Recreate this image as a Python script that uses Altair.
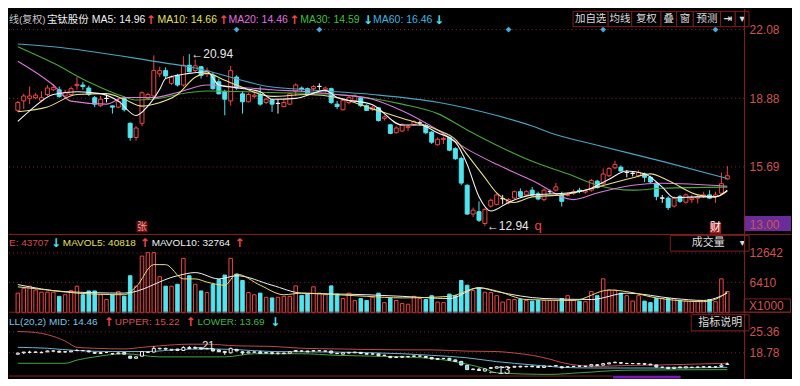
import altair as alt
import pandas as pd

# ---------------- data ----------------
opens = [18.32, 18.76, 18.88, 18.91, 18.79, 19.06, 19.28, 19.28, 18.99, 19.06,
         19.47, 19.50, 19.36, 18.91, 18.54, 18.87, 18.53, 18.47, 18.88, 17.72,
         17.06, 17.72, 18.88, 18.99, 20.02, 20.17, 19.58, 19.95, 19.50, 20.42,
         20.17, 20.35, 20.02, 19.95, 19.65, 19.21, 18.76, 19.87, 19.09, 18.72,
         18.97, 19.06, 18.69, 18.81, 18.64, 18.50, 18.61, 19.21, 19.36, 19.33,
         19.33, 19.43, 19.28, 19.33, 18.61, 18.35, 18.69, 18.76, 18.91, 18.54,
         18.35, 18.44, 17.95, 17.65, 17.28, 17.36, 17.52, 17.65, 17.73, 17.61,
         17.31, 16.72, 16.97, 17.06, 16.54, 16.09, 14.84, 13.50, 13.61, 13.06,
         13.87, 13.95, 14.21, 14.02, 14.24, 14.54, 14.39, 14.61, 14.44, 14.17,
         14.54, 14.61, 14.39, 14.37, 14.47, 14.61, 14.52, 14.61, 15.03, 14.91,
         15.28, 15.65, 15.68, 15.43, 15.39, 15.28, 15.36, 15.21, 14.94, 14.24,
         14.24, 13.87, 14.32, 14.05, 14.17, 14.24, 14.32, 14.39, 14.32, 14.47,
         15.13]
closes = [18.69, 18.99, 18.99, 19.03, 18.91, 19.36, 19.38, 18.96, 19.14, 19.33,
          19.53, 19.43, 19.06, 18.61, 18.84, 18.88, 18.47, 18.73, 18.35, 17.06,
          17.50, 19.14, 19.06, 20.17, 20.17, 19.92, 19.87, 19.50, 20.42, 20.12,
          20.39, 19.95, 20.17, 19.33, 19.09, 18.84, 20.17, 19.36, 18.72, 19.06,
          19.03, 18.61, 18.84, 18.61, 18.65, 18.69, 19.09, 19.50, 19.30, 19.06,
          19.43, 19.44, 19.36, 18.69, 18.50, 18.79, 18.91, 18.99, 18.54, 18.32,
          18.47, 17.85, 18.02, 17.25, 17.50, 17.65, 17.58, 17.80, 17.74, 17.28,
          16.84, 16.98, 17.02, 16.47, 16.07, 14.94, 13.50, 13.68, 13.21, 13.72,
          14.14, 14.39, 14.22, 14.17, 14.54, 14.32, 14.54, 14.39, 14.20, 14.61,
          14.55, 14.76, 14.09, 14.40, 14.54, 14.56, 14.58, 15.06, 14.73, 15.36,
          15.62, 15.80, 15.50, 15.44, 15.40, 15.43, 15.21, 14.99, 14.32, 14.25,
          13.80, 14.24, 14.09, 14.39, 14.24, 14.32, 14.39, 14.24, 14.39, 14.91,
          15.28]
highs = [18.76, 19.09, 19.43, 19.14, 19.21, 19.50, 19.53, 19.43, 19.28, 19.43,
         19.87, 19.65, 19.47, 18.99, 18.99, 19.06, 18.55, 18.91, 18.94, 17.76,
         17.58, 19.21, 19.14, 20.88, 20.35, 20.32, 19.95, 20.02, 20.84, 20.94,
         20.69, 20.39, 20.32, 20.09, 19.80, 19.28, 20.39, 19.95, 19.21, 19.14,
         19.18, 19.43, 18.91, 18.84, 18.84, 18.84, 19.14, 19.58, 19.43, 19.38,
         19.50, 19.58, 19.43, 19.38, 18.76, 18.84, 18.99, 19.06, 18.99, 18.61,
         18.54, 18.47, 18.09, 17.69, 17.58, 17.72, 17.65, 17.87, 17.85, 17.69,
         17.36, 17.06, 17.10, 17.10, 16.61, 16.17, 14.88, 13.80, 14.09, 13.76,
         14.22, 14.46, 14.39, 14.24, 14.59, 14.69, 14.61, 14.76, 14.54, 14.69,
         14.64, 14.94, 14.54, 14.49, 14.64, 14.72, 14.64, 15.13, 15.09, 15.62,
         15.68, 15.98, 15.76, 15.54, 15.50, 15.54, 15.43, 15.28, 14.99, 14.39,
         14.32, 14.32, 14.39, 14.46, 14.39, 14.41, 14.54, 14.61, 14.54, 15.43,
         15.73]
lows = [18.25, 18.39, 18.61, 18.84, 18.69, 18.99, 19.21, 18.91, 18.91, 18.99,
        19.28, 19.28, 18.99, 18.47, 18.47, 18.69, 18.17, 18.42, 18.27, 16.91,
        16.91, 17.58, 18.79, 18.91, 19.87, 19.80, 19.50, 19.43, 19.43, 20.09,
        20.09, 19.80, 19.87, 19.28, 19.06, 18.09, 18.54, 19.28, 18.17, 18.69,
        18.88, 18.54, 18.61, 18.25, 18.17, 18.47, 18.58, 18.99, 19.18, 19.03,
        19.21, 19.28, 19.14, 18.61, 18.39, 18.32, 18.61, 18.69, 18.47, 18.29,
        18.29, 17.80, 17.85, 17.21, 17.25, 17.32, 17.36, 17.61, 17.61, 17.21,
        16.76, 16.69, 16.76, 16.42, 16.02, 14.84, 13.46, 13.36, 13.13, 12.94,
        13.80, 13.91, 13.95, 13.95, 14.19, 14.24, 14.32, 14.32, 14.14, 14.09,
        14.44, 14.54, 13.85, 14.32, 14.39, 14.47, 14.44, 14.54, 14.69, 14.84,
        15.21, 15.58, 15.46, 15.21, 15.25, 15.21, 14.99, 14.94, 14.14, 14.02,
        13.69, 13.80, 14.02, 13.99, 14.02, 13.99, 14.24, 14.20, 14.02, 14.44,
        15.10]
volumes = [4140, 5150, 5610, 4800, 4340, 4340, 4340, 3460, 3800, 4670,
           5610, 3800, 4600, 4600, 3800, 2790, 3800, 4460, 3460, 7820,
           5610, 11980, 12710, 12710, 7620, 5610, 5610, 6010, 11500, 7820,
           6010, 4600, 4260, 6010, 7010, 7960, 11500, 8160, 6810, 4260,
           3800, 4140, 3260, 3130, 3260, 3460, 3460, 5670, 3660, 3940,
           5470, 4140, 3800, 5670, 3940, 3000, 4140, 2590, 3000, 2590,
           3260, 4140, 2130, 3000, 2590, 1930, 1790, 3460, 3000, 2790,
           3600, 2250, 2130, 3940, 3600, 6810, 5810, 4670, 5270, 4340,
           4260, 3600, 2250, 2790, 2790, 2790, 2590, 2450, 2590, 2590,
           2590, 2590, 3000, 3600, 2590, 2450, 2330, 4460, 3600, 7160,
           4800, 4800, 4140, 3600, 2450, 3600, 2450, 2130, 3000, 3000,
           3000, 3000, 2590, 2450, 2450, 2450, 2450, 2790, 2330, 7160,
           4460]

ma5_idx = [0, 2, 6, 10, 14, 17, 20, 22, 24, 25, 29, 32, 34, 37, 41, 43, 47, 52, 54, 60,
           65, 68, 71, 74, 76, 78, 80, 83, 85, 87, 93, 97, 100, 103, 106, 109, 111, 115, 118, 120]
ma5_val = [17.81, 18.30, 19.06, 19.19, 19.10, 18.75, 18.08, 18.52, 19.30, 19.80,
           20.04, 20.12, 19.50, 19.37, 19.19, 18.84, 18.88, 19.25, 18.92, 18.58,
           17.64, 17.64, 17.28, 16.84, 15.81, 14.30, 13.64, 14.04, 14.26, 14.39,
           14.48, 14.70, 15.12, 15.50, 15.37, 14.75, 14.26, 14.30, 14.30, 14.61]
ma10_idx = [0, 5, 10, 15, 18, 21, 23, 27, 30, 32, 35, 37, 43, 49, 54, 60, 65, 71, 74, 76,
            79, 81, 84, 87, 92, 96, 98, 104, 107, 110, 115, 118, 120]
ma10_val = [18.26, 18.48, 19.06, 19.10, 18.84, 18.52, 18.61, 19.06, 19.86, 20.04,
            19.72, 19.50, 18.97, 19.06, 18.92, 18.39, 17.95, 17.41, 16.97, 16.26,
            15.19, 14.48, 14.04, 14.30, 14.39, 14.61, 14.75, 15.19, 15.37, 15.06,
            14.39, 14.30, 14.57]
ma20_idx = [0, 6, 9, 15, 18, 23, 27, 32, 37, 43, 49, 54, 60, 65, 71, 76, 81, 87, 94, 98,
            104, 109, 120]
ma20_val = [20.61, 19.50, 18.75, 18.61, 18.92, 18.92, 19.15, 19.50, 19.41, 19.28,
            19.19, 19.06, 18.84, 18.30, 17.41, 16.52, 15.81, 15.06, 14.17, 14.48,
            14.84, 14.93, 14.79]
ma30_idx = [0, 6, 12, 18, 20, 23, 29, 32, 43, 54, 65, 71, 76, 81, 87, 93, 98, 104, 109, 120]
ma30_val = [21.28, 20.52, 19.64, 18.95, 18.80, 18.85, 19.15, 19.22, 19.15, 19.06,
            18.61, 18.17, 17.41, 16.70, 15.95, 15.37, 14.84, 14.61, 14.70, 14.75]
ma60_idx = [0, 6, 25, 29, 43, 49, 60, 71, 81, 87, 90, 98, 109, 120]
ma60_val = [21.41, 21.28, 20.52, 20.35, 19.41, 19.28, 19.06, 18.70, 18.08, 17.59,
            17.28, 16.70, 15.95, 15.15]

mavol5_idx = [0, 5, 10, 18, 20, 23, 25, 28, 30, 32, 35, 37, 41, 45, 48, 54, 59, 65, 73, 78,
              81, 86, 94, 100, 103, 108, 116, 119, 120]
mavol5_val = [5470, 4800, 4140, 3800, 5470, 10170, 10170, 7150, 7150, 6470,
              5810, 8160, 5810, 3800, 4140, 3800, 3460, 3130, 3460, 5270,
              4600, 2790, 2590, 4800, 4460, 3130, 2330, 3460, 4460]
mavol10_idx = [0, 8, 18, 27, 30, 34, 37, 43, 48, 59, 65, 73, 78, 81, 89, 97, 103, 111, 116, 120]
mavol10_val = [5950, 4460, 4140, 7820, 8490, 7150, 7820, 5810, 4140, 3800,
               3460, 3000, 5270, 4460, 3000, 2790, 4140, 3000, 2590, 4140]

boll_up_idx = [0, 3, 5, 8, 10, 13, 18, 21, 24, 29, 32, 37, 43, 48, 54, 65, 70, 76, 81, 84,
               87, 90, 92, 95, 98, 103, 109, 114, 120]
boll_up_val = [25.45, 25.15, 24.46, 22.46, 20.49, 20.19, 19.98, 20.49, 20.96, 21.47,
               21.47, 20.96, 20.78, 20.19, 19.98, 19.70, 19.68, 19.29, 19.17, 18.69,
               17.97, 16.78, 15.70, 14.80, 14.50, 14.80, 14.98, 15.19, 15.49]
boll_mid_idx = [0, 5, 10, 16, 22, 27, 32, 37, 43, 54, 65, 70, 76, 81, 87, 90, 92, 98, 109, 120]
boll_mid_val = [20.49, 20.19, 19.47, 19.17, 19.17, 19.77, 19.98, 19.77, 19.17, 18.99,
                18.48, 17.97, 17.19, 16.00, 14.98, 14.50, 14.20, 14.00, 14.00, 14.20]
boll_low_idx = [0, 8, 10, 13, 18, 24, 29, 35, 40, 48, 54, 65, 70, 73, 76, 79, 81, 90, 95, 103, 120]
boll_low_val = [15.49, 15.49, 16.48, 17.49, 18.48, 17.49, 17.49, 17.49, 18.48, 18.48,
                17.97, 17.49, 16.99, 16.30, 15.19, 13.79, 12.50, 12.00, 12.50, 13.31, 13.49]

event_idx = [37, 51, 83, 99, 118]
price_ticks = [22.08, 18.88, 15.69, 13.00]
vol_ticks = [12642, 6410]
boll_ticks = [25.36, 18.78]
extreme_idx = [29, 79]
extreme_val = [20.94, 12.94]

# ---------------- styling ----------------
FONT = "Liberation Sans, Noto Sans CJK SC"
AXFONT = "Liberation Sans"
CJK = "Noto Sans CJK SC"
ARW = "DejaVu Sans"
RED = "#f04646"
CYAN = "#52e4ee"
WHITE = "#f2f2f2"
AXC = "#cc5450"
DOM = "#8a2222"
GRID = "#7a2a2a"
W = 737
XR = 784
H1, H2, H3 = 227, 78, 65

n = len(closes)
kind = ["flat" if abs(c - o) < 0.015 else ("up" if c > o else "down") for o, c in zip(opens, closes)]
df = pd.DataFrame({"i": list(range(n)), "o": opens, "h": highs, "l": lows, "c": closes,
                   "v": volumes, "k": kind})
df["vk"] = ["down" if k == "down" else "up" for k in kind]

ONE = pd.DataFrame({"z": [0]})
xsc = alt.Scale(domain=[-0.65, 122.0], nice=False, zero=False)
X = alt.X("i:Q", scale=xsc, axis=None)

stroke_k = alt.Stroke("k:N", scale=alt.Scale(domain=["up", "down", "flat"], range=[RED, CYAN, WHITE]), legend=None)
fill_k = alt.Fill("k:N", scale=alt.Scale(domain=["up", "down", "flat"], range=["#000000", CYAN, WHITE]), legend=None)


def txt(s, x, y, color, size=10.5, font=FONT, align="left", weight="normal"):
    return alt.Chart(ONE).mark_text(text=s, align=align, baseline="middle", color=color,
                                    fontSize=size, font=font, fontWeight=weight).encode(
        x=alt.value(x), y=alt.value(y))


def arrow(up, x, y):
    return txt("\u2191" if up else "\u2193", x, y, RED if up else CYAN, size=12, font=ARW, weight="bold")


def rect(x1, x2, y1, y2, fill="#000000", stroke=None):
    kw = {"fill": fill}
    if stroke:
        kw.update(stroke=stroke, strokeWidth=1)
    return alt.Chart(ONE).mark_rect(**kw).encode(x=alt.value(x1), x2=alt.value(x2),
                                                 y=alt.value(y1), y2=alt.value(y2))


def hline(y, x1=0, x2=XR, color=DOM):
    return alt.Chart(ONE).mark_rule(color=color, strokeWidth=1).encode(
        x=alt.value(x1), x2=alt.value(x2), y=alt.value(y))


def axis(vals, fmt):
    return alt.Axis(orient="right", values=vals, format=fmt, grid=False, ticks=False,
                    labelColor=AXC, labelFont=AXFONT, labelFontSize=12, labelPadding=5,
                    domainColor=DOM, domainWidth=1, title=None, zindex=2)


def line_layer(idx, vals, col, Yf, width=1.1):
    d = pd.DataFrame({"i": idx, "p": vals})
    return alt.Chart(d).mark_line(color=col, strokeWidth=width, interpolate="monotone").encode(
        x=X, y=Yf("p"))


# ---------------- main price panel ----------------
ysc1 = alt.Scale(domain=[12.53, 23.06], nice=False, zero=False)
ax1 = axis(price_ticks, ".2f")


def Y1(f):
    return alt.Y(f, type="quantitative", scale=ysc1, axis=ax1)


grid1 = alt.Chart(pd.DataFrame({"p": price_ticks[:3]})).mark_rule(
    color=GRID, strokeDash=[1, 3], strokeWidth=1).encode(y=Y1("p"))
wick1 = alt.Chart(df).mark_rule(strokeWidth=1).encode(x=X, y=Y1("l"), y2="h", stroke=stroke_k)
body1 = alt.Chart(df).mark_bar(size=4, strokeWidth=1).encode(x=X, y=Y1("o"), y2="c",
                                                             fill=fill_k, stroke=stroke_k)
ma_layers = [
    line_layer(ma60_idx, ma60_val, "#4aa4c4", Y1),
    line_layer(ma30_idx, ma30_val, "#4aa83a", Y1),
    line_layer(ma20_idx, ma20_val, "#d87ad8", Y1),
    line_layer(ma10_idx, ma10_val, "#e6df8c", Y1),
    line_layer(ma5_idx, ma5_val, "#f6f6f6", Y1),
]
events = alt.Chart(pd.DataFrame({"i": event_idx, "p": [price_ticks[0]] * len(event_idx)})).mark_point(
    shape="diamond", filled=True, size=34, color="#4aa8dc", opacity=1).encode(x=X, y=Y1("p"))
ext = alt.Chart(pd.DataFrame({"i": extreme_idx, "p": extreme_val,
                              "t": ["\u2190" + f"{v:.2f}" for v in extreme_val]})).mark_text(
    align="left", baseline="middle", dx=2, color="#e8e8e8", fontSize=12, font=FONT).encode(
    x=X, y=Y1("p"), text="t:N")

mark_zh = alt.Chart(pd.DataFrame({"i": [21]})).mark_square(size=120, color="#6e1212", opacity=1).encode(
    x=X, y=alt.value(219))
mark_zh_t = alt.Chart(pd.DataFrame({"i": [21]})).mark_text(text="张", font=CJK, fontSize=10,
                                                          color="#ff9a9a", baseline="middle").encode(
    x=X, y=alt.value(219))
mark_q = alt.Chart(pd.DataFrame({"i": [88]})).mark_text(text="q", font=FONT, fontSize=13,
                                                       color=RED, baseline="middle").encode(
    x=X, y=alt.value(218))
mark_cai = alt.Chart(pd.DataFrame({"i": [118]})).mark_square(size=130, color="#a82020", opacity=1).encode(
    x=X, y=alt.value(220))
mark_cai_t = alt.Chart(pd.DataFrame({"i": [118]})).mark_text(text="财", font=CJK, fontSize=11,
                                                            color="#ffffff", baseline="middle").encode(
    x=X, y=alt.value(220))

price_box = rect(W, XR, 208, 223, fill="#6a2c9a")

hdr_y = 11.5
header1 = [
    txt("线(复权)", 0, hdr_y, "#c8c8c8", size=10),
    txt("宝钛股份", 38, hdr_y, "#f0f0f0", size=10.5, font=CJK),
    txt("MA5: 14.96", 83, hdr_y, "#f0f0f0"),
    arrow(True, 137, hdr_y),
    txt("MA10: 14.66", 149, hdr_y, "#e6e05a"),
    arrow(True, 210, hdr_y),
    txt("MA20: 14.46", 220, hdr_y, "#e070e0"),
    arrow(True, 281, hdr_y),
    txt("MA30: 14.59", 292, hdr_y, "#3cc23c"),
    arrow(False, 355, hdr_y),
    txt("MA60: 16.46", 365, hdr_y, "#40b4e0"),
    arrow(False, 426, hdr_y),
]
buttons = [("加自选", 565.5, 600.7), ("均线", 600.7, 624.3), ("复权", 624.3, 653.7),
           ("叠", 653.7, 669.3), ("窗", 669.3, 686.0), ("预测", 686.0, 713.4),
           ("\u21e5", 713.4, 728.1), ("\u25be", 728.1, 741.9)]
btn_layers = []
for lab, a, b in buttons:
    btn_layers.append(rect(a, b, 2.9, 18.2, fill="#000000", stroke="#7a2020"))
    f = CJK if lab not in ("\u21e5", "\u25be") else ARW
    btn_layers.append(txt(lab, (a + b) / 2, 10.6, "#dcdcdc", size=10.5, font=f, align="center",
                          weight="bold" if f != CJK else "normal"))

panel1 = alt.layer(
    grid1, wick1, body1, *ma_layers, events, ext, mark_zh, mark_zh_t, mark_q, mark_cai, mark_cai_t,
    price_box, *header1, *btn_layers, hline(H1 - 0.5)
).properties(width=W, height=H1)

# ---------------- volume panel ----------------
ysc2 = alt.Scale(domain=[0, 16460], nice=False, zero=True)
ax2 = axis(vol_ticks, "d")


def Y2(f):
    return alt.Y(f, type="quantitative", scale=ysc2, axis=ax2)


grid2 = alt.Chart(pd.DataFrame({"p": vol_ticks})).mark_rule(
    color=GRID, strokeDash=[1, 3], strokeWidth=1).encode(y=Y2("p"))
vbar = alt.Chart(df).mark_bar(size=3.5, strokeWidth=1).encode(
    x=X, y=Y2("v"),
    fill=alt.Fill("vk:N", scale=alt.Scale(domain=["up", "down"], range=["#000000", CYAN]), legend=None),
    stroke=alt.Stroke("vk:N", scale=alt.Scale(domain=["up", "down"], range=[RED, CYAN]), legend=None))
mavol = [line_layer(mavol10_idx, mavol10_val, "#f0f0f0", Y2, 1.0),
         line_layer(mavol5_idx, mavol5_val, "#e6df7a", Y2, 1.0)]
vh = 8.6
header2 = [
    txt("E: 43707", 0, vh, "#d84c4c", size=10),
    arrow(False, 42, vh),
    txt("MAVOL5: 40818", 54, vh, "#e6e05a", size=10),
    arrow(True, 131, vh),
    txt("MAVOL10: 32764", 143, vh, "#f0f0f0", size=10),
    arrow(True, 226, vh),
]
vol_box = [rect(663, 742, 0.5, 16.3, fill="#000000", stroke="#7a2020"),
           txt("成交量", 701, 8.4, "#dcdcdc", size=11, font=CJK, align="center"),
           txt("\u25be", 735, 8.4, "#dcdcdc", size=10, font=ARW, align="center"),
           rect(W, XR - 0.5, 64.2, 77.5, fill="#000000", stroke="#7a2020"),
           txt("X1000", 742, 71, AXC, size=12, font=AXFONT)]
panel2 = alt.layer(grid2, vbar, *mavol, *header2, *vol_box, hline(H2 - 0.5)).properties(width=W, height=H2)

# ---------------- BOLL panel ----------------
ysc3 = alt.Scale(domain=[10.70, 31.04], nice=False, zero=False)
ax3 = axis(boll_ticks, ".2f")


def Y3(f):
    return alt.Y(f, type="quantitative", scale=ysc3, axis=ax3)


grid3 = alt.Chart(pd.DataFrame({"p": boll_ticks})).mark_rule(
    color=GRID, strokeDash=[1, 3], strokeWidth=1).encode(y=Y3("p"))
boll_lines = [line_layer(boll_up_idx, boll_up_val, "#c24a4a", Y3, 1.0),
              line_layer(boll_low_idx, boll_low_val, "#44a844", Y3, 1.0),
              line_layer(boll_mid_idx, boll_mid_val, "#6cb4d4", Y3, 1.0)]
wick3 = alt.Chart(df).mark_rule(strokeWidth=1, color=WHITE).encode(x=X, y=Y3("l"), y2="h")
body3 = alt.Chart(df).mark_bar(size=3, strokeWidth=1, stroke=WHITE).encode(
    x=X, y=Y3("o"), y2="c",
    fill=alt.Fill("k:N", scale=alt.Scale(domain=["up", "down", "flat"], range=["#000000", WHITE, WHITE]),
                  legend=None))
ext3 = alt.Chart(pd.DataFrame({"i": extreme_idx, "p": extreme_val,
                               "t": ["\u2190" + f"{v:.0f}" for v in extreme_val]})).mark_text(
    align="left", baseline="middle", dx=2, color="#e8e8e8", fontSize=11, font=FONT).encode(
    x=X, y=Y3("p"), text="t:N")
bh = 8.6
header3 = [
    txt("LL(20,2) MID: 14.46", 0, bh, "#7cc4e4", size=10),
    arrow(True, 95, bh),
    txt("UPPER: 15.22", 106, bh, "#d45050", size=10),
    arrow(True, 177, bh),
    txt("LOWER: 13.69", 189, bh, "#44b444", size=10),
    arrow(False, 262, bh),
]
boll_extra = [rect(684, 742, 1, 17.2, fill="#000000", stroke="#7a2020"),
              txt("指标说明", 713, 9.2, "#dcdcdc", size=11, font=CJK, align="center"),
              rect(605.6, 673.3, 62.1, 65, fill="#7a1ab0"),
              hline(62.5, 0, 605)]
panel3 = alt.layer(grid3, *boll_lines, wick3, body3, ext3, *header3, *boll_extra).properties(width=W, height=H3)

chart = alt.vconcat(panel1, panel2, panel3, spacing=0).properties(
    padding={"left": 0, "right": 0, "top": 0, "bottom": 0}
).configure(background="#000000").configure_view(stroke=None)

chart.save("out.html", embed_options={"renderer": "svg", "actions": False})
